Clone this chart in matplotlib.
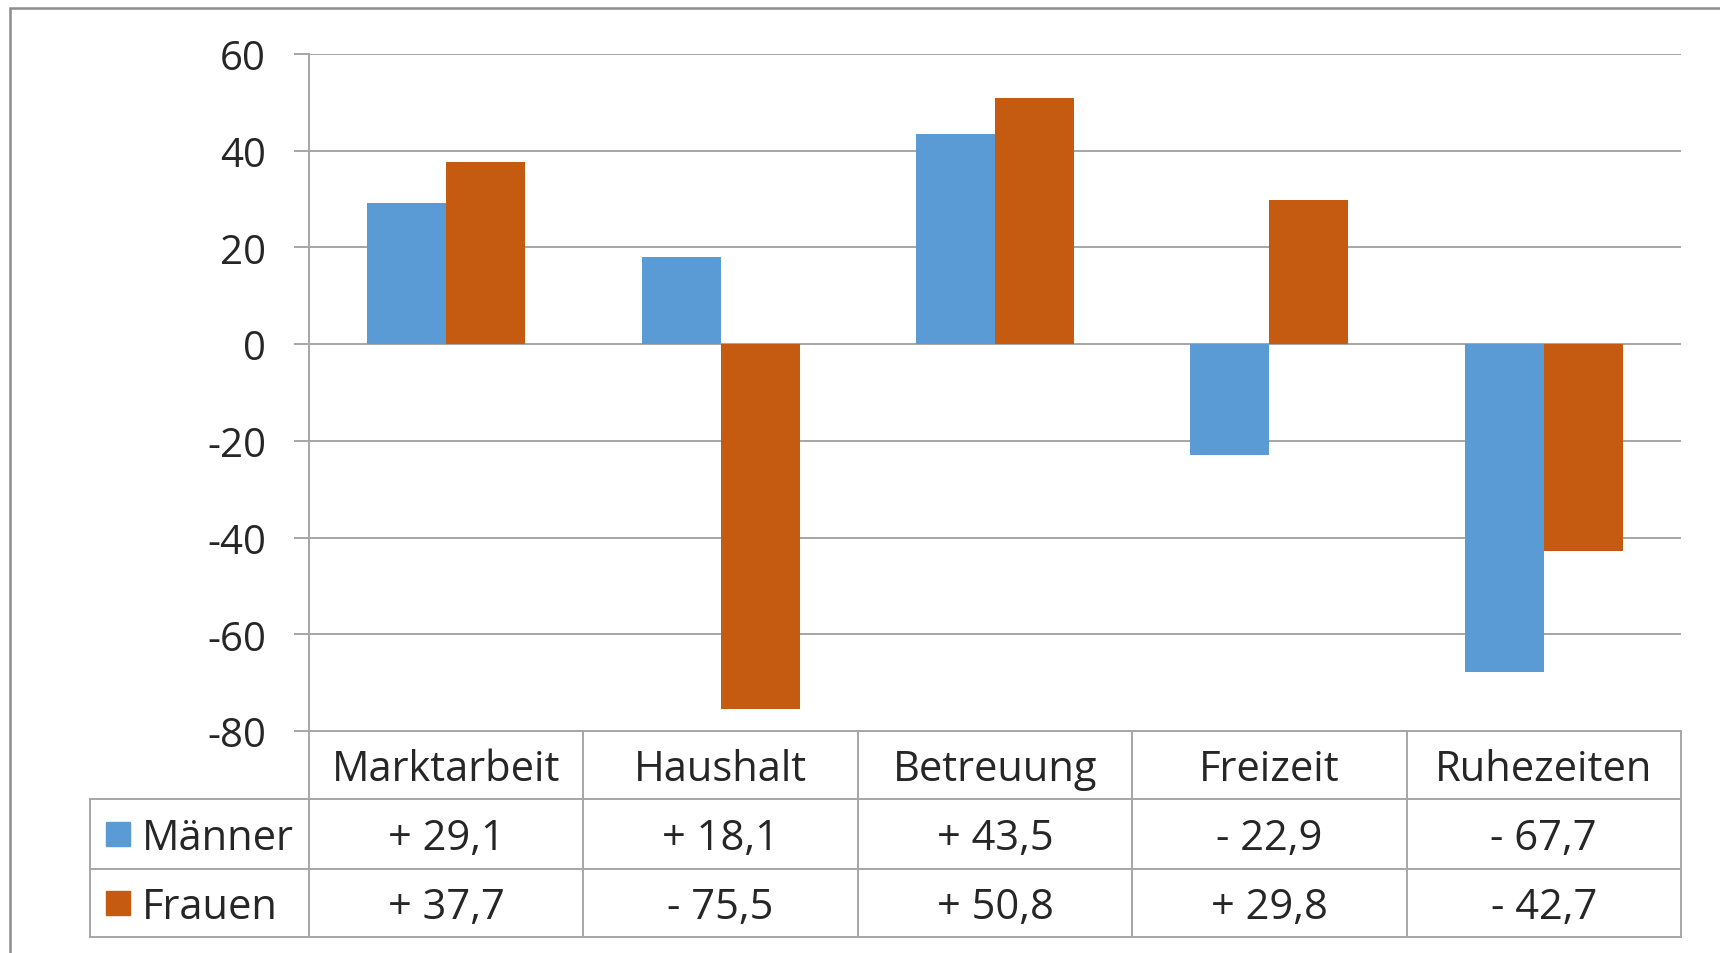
import numpy as np
import matplotlib.pyplot as plt
from matplotlib.patches import Rectangle
from matplotlib.transforms import blended_transform_factory

plt.rcParams['font.family'] = ['Open Sans', 'DejaVu Sans']

categories = ["Marktarbeit", "Haushalt", "Betreuung", "Freizeit", "Ruhezeiten"]
series = ["Männer", "Frauen"]
maenner = [29.1, 18.1, 43.5, -22.9, -67.7]
frauen = [37.7, -75.5, 50.8, 29.8, -42.7]
yticks = [-80, -60, -40, -20, 0, 20, 40, 60]

colors = ["#5B9BD5", "#C55A11"]
grid_c = "#A6A6A6"
txt_c = "#262626"

W, H = 1720, 954
fig = plt.figure(figsize=(W / 100, H / 100), dpi=100)

# axes box in pixels (from the reference)
left, right, top, bottom = 309, 1681, 55, 732
ax = fig.add_axes([left / W, 1 - bottom / H, (right - left) / W, (bottom - top) / H])

x = np.arange(len(categories))
bw = 0.288
ax.bar(x - bw / 2, maenner, bw, color=colors[0], zorder=3)
ax.bar(x + bw / 2, frauen, bw, color=colors[1], zorder=3)

ax.set_xlim(-0.5, len(categories) - 0.5)
ax.set_ylim(-80, 60)
ax.set_yticks(yticks)
ax.set_yticklabels([str(v) for v in yticks])
ax.yaxis.grid(True, color=grid_c, linewidth=1.4, zorder=0)
ax.tick_params(axis='y', length=11, width=1.4, color=grid_c, pad=20,
               labelsize=29, labelcolor=txt_c)
ax.tick_params(axis='x', length=0, labelbottom=False)
for s in ['top', 'right', 'bottom']:
    ax.spines[s].set_visible(False)
ax.spines['left'].set_color(grid_c)
ax.spines['left'].set_linewidth(1.4)

# data table below the axes
px = bottom - top
row_y = [0, -(800 - bottom) / px, -(870 - bottom) / px, -(938 - bottom) / px]
trans = blended_transform_factory(ax.transData, ax.transAxes)
xleg = -0.5 - (left - 90) / ((right - left) / len(categories))
lkw = dict(color=grid_c, linewidth=1.4, clip_on=False)

ax.plot([-0.5, len(categories) - 0.5], [row_y[0]] * 2, transform=trans, **lkw)
for yy in row_y[1:]:
    ax.plot([xleg, len(categories) - 0.5], [yy] * 2, transform=trans, **lkw)
for i in range(len(categories) + 1):
    ax.plot([i - 0.5] * 2, [row_y[0], row_y[3]], transform=trans, **lkw)
ax.plot([xleg] * 2, [row_y[1], row_y[3]], transform=trans, **lkw)

fs = 30
dy = 4 / px  # small downward nudge of cell text
for i, c in enumerate(categories):
    ax.text(i, (row_y[0] + row_y[1]) / 2 - dy, c, transform=trans, ha='center',
            va='center', fontsize=fs, color=txt_c)


def fmt(v):
    return ("+ " if v > 0 else "- ") + f"{abs(v):.1f}".replace(".", ",")


for r, (name, vals) in enumerate(zip(series, [maenner, frauen])):
    yc = (row_y[r + 1] + row_y[r + 2]) / 2 - dy
    for i, v in enumerate(vals):
        ax.text(i, yc, fmt(v), transform=trans, ha='center', va='center',
                fontsize=fs, color=txt_c)
    fig.text(142 / W, 1 - (839 + 69 * r) / H, name, ha='left', va='center',
             fontsize=fs, color=txt_c)
    fig.patches.append(Rectangle((106 / W, 1 - (835 + 69 * r + 12) / H), 24 / W, 24 / H,
                                 transform=fig.transFigure, color=colors[r]))

# outer chart border (runs off the right and bottom edges)
fig.patches.append(Rectangle((10 / W, -0.05), 1.2, 1.05 - 9 / H, transform=fig.transFigure,
                             fill=False, edgecolor="#8C8C8C", linewidth=1.8))

fig.savefig("out.png", dpi=100)
